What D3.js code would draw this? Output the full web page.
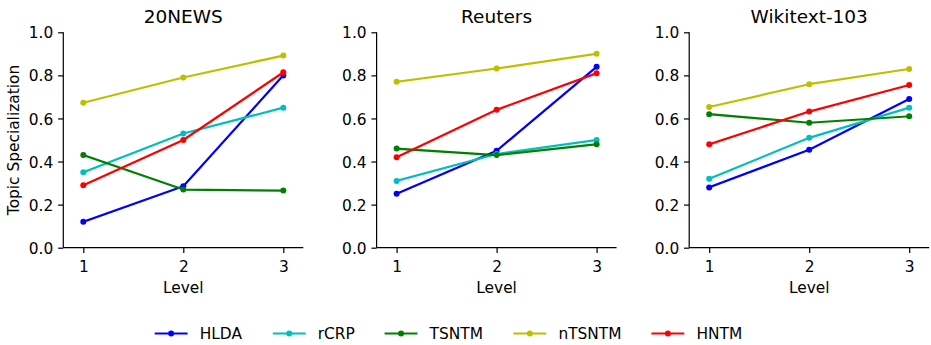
<!DOCTYPE html>
<html>
<head>
<meta charset="utf-8">
<script src="https://cdn.jsdelivr.net/npm/d3@7"></script>
<style>
  html, body { margin: 0; padding: 0; background: #fff; }
  svg { display: block; font-family: "DejaVu Sans", sans-serif; }
</style>
</head>
<body>
<svg id="chart" width="931" height="345"></svg>
<script>
// Datasets (one panel each) and hierarchy levels
const datasets = ["20NEWS", "Reuters", "Wikitext-103"];
const levels = [1, 2, 3];
const yTicks = [0.0, 0.2, 0.4, 0.6, 0.8, 1.0];

// Topic specialization per model, per dataset, at levels 1..3
const models = ["HLDA", "rCRP", "TSNTM", "nTSNTM", "HNTM"];
const colors = ["#0000ff", "#00bfbf", "#008000", "#bfbf00", "#ff0000"];

const hlda   = [[0.12, 0.285, 0.80], [0.25, 0.45, 0.84], [0.28, 0.455, 0.69]];
const rcrp   = [[0.35, 0.53, 0.65],  [0.31, 0.435, 0.50], [0.32, 0.51, 0.65]];
const tsntm  = [[0.43, 0.27, 0.265], [0.46, 0.43, 0.48], [0.62, 0.58, 0.61]];
const ntsntm = [[0.673, 0.79, 0.892], [0.77, 0.832, 0.90], [0.653, 0.759, 0.83]];
const hntm   = [[0.29, 0.50, 0.814], [0.42, 0.64, 0.81], [0.48, 0.632, 0.755]];
const seriesValues = [hlda, rcrp, tsntm, ntsntm, hntm];

const svg = d3.select("#chart");
const panelLeft = [63.3, 376.6, 689.2];
const panelWidth = 240;
const plotTop = 32.3, plotBottom = 247.7;
const fontTick = "15.4px";
const fontLabel = "15.4px";
const tickLen = 5.2;

const y = d3.scaleLinear().domain([0, 1]).range([plotBottom, plotTop]);

datasets.forEach((name, di) => {
  const x = d3.scaleLinear().domain([0.8, 3.2]).range([panelLeft[di], panelLeft[di] + panelWidth]);
  const g = svg.append("g");

  // y axis
  const ya = g.append("g")
    .attr("transform", `translate(${panelLeft[di]},0)`)
    .call(d3.axisLeft(y).tickValues(yTicks).tickFormat(d3.format(".1f")).tickSize(tickLen));
  // x axis
  const xa = g.append("g")
    .attr("transform", `translate(0,${plotBottom})`)
    .call(d3.axisBottom(x).tickValues(levels).tickFormat(d3.format("d")).tickSize(tickLen));

  [ya, xa].forEach(a => {
    a.select(".domain").attr("stroke", "#000").attr("stroke-width", 1.2);
    a.selectAll(".tick line").attr("stroke", "#000").attr("stroke-width", 1.2);
    a.selectAll(".tick text").attr("fill", "#000").style("font-size", fontTick)
      .style("font-family", "DejaVu Sans, sans-serif");
  });
  ya.selectAll(".tick text").attr("x", -10).attr("dy", "0.36em");
  xa.selectAll(".tick text").attr("y", 24.5).attr("dy", 0);
  // axis spines without end caps
  ya.select(".domain").attr("d", `M0,${plotBottom}V${plotTop}`);
  xa.select(".domain").attr("d", `M${panelLeft[di]},0H${panelLeft[di] + panelWidth}`);

  // title
  g.append("text")
    .attr("x", panelLeft[di] + panelWidth / 2)
    .attr("y", 23.3)
    .attr("text-anchor", "middle")
    .style("font-size", "18.5px")
    .text(name);

  // x label
  g.append("text")
    .attr("x", panelLeft[di] + panelWidth / 2)
    .attr("y", 292.5)
    .attr("text-anchor", "middle")
    .style("font-size", fontLabel)
    .text("Level");

  // series
  const line = d3.line().x((d, i) => x(levels[i])).y(d => y(d));
  seriesValues.forEach((vals, si) => {
    const data = vals[di];
    g.append("path")
      .datum(data)
      .attr("d", line)
      .attr("fill", "none")
      .attr("stroke", colors[si])
      .attr("stroke-width", 2.2)
      .attr("stroke-linejoin", "round")
      .attr("stroke-linecap", "square");
    g.selectAll(null)
      .data(data)
      .enter()
      .append("circle")
      .attr("cx", (d, i) => x(levels[i]))
      .attr("cy", d => y(d))
      .attr("r", 3)
      .attr("fill", colors[si]);
  });
});

// y axis label on the first panel
svg.append("text")
  .attr("transform", `translate(18.5,${(plotTop + plotBottom) / 2}) rotate(-90)`)
  .attr("text-anchor", "middle")
  .style("font-size", fontLabel)
  .text("Topic Specialization");

// legend
const legendX = [154.7, 272.8, 384.6, 513.4, 651.4];
const legendY = 333.5;
models.forEach((m, i) => {
  const lg = svg.append("g");
  lg.append("line")
    .attr("x1", legendX[i]).attr("x2", legendX[i] + 32.9)
    .attr("y1", legendY).attr("y2", legendY)
    .attr("stroke", colors[i]).attr("stroke-width", 2.2);
  lg.append("circle")
    .attr("cx", legendX[i] + 16.45).attr("cy", legendY).attr("r", 3)
    .attr("fill", colors[i]);
  lg.append("text")
    .attr("x", legendX[i] + 45)
    .attr("y", legendY + 5.6)
    .style("font-size", "15.4px")
    .text(m);
});
</script>
</body>
</html>
